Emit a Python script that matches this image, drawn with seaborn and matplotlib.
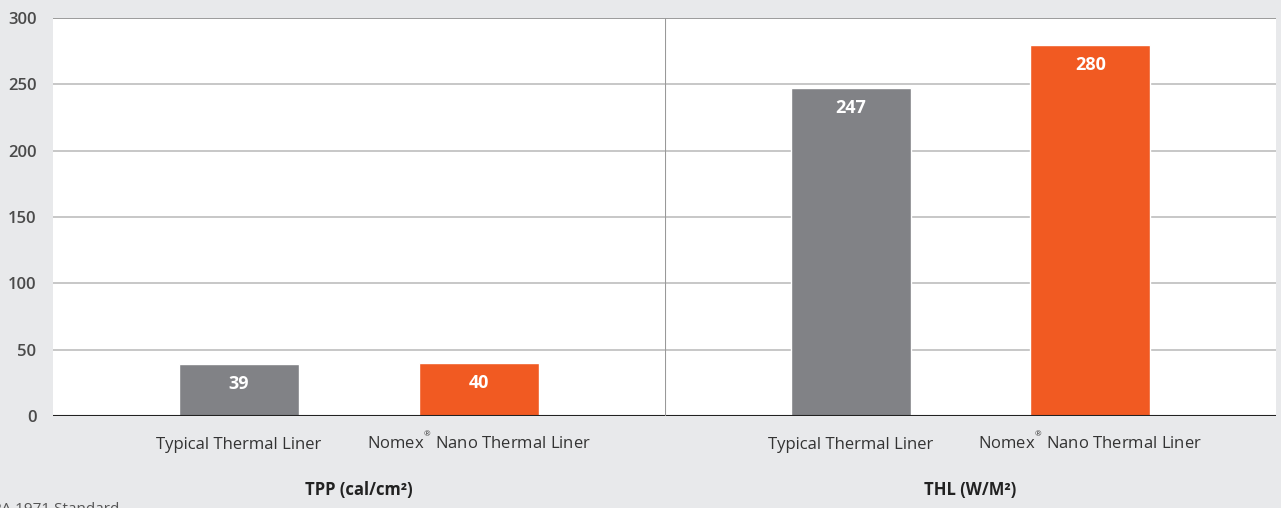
import matplotlib
matplotlib.use("Agg")
import matplotlib.pyplot as plt
import seaborn as sns
import pandas as pd

# data
liners = ["Typical Thermal Liner", "Nomex$^{^{\\circledR}}$ Nano Thermal Liner"]
tpp_values = [39, 40]
thl_values = [247, 280]
group_titles = ["TPP (cal/cm²)", "THL (W/M²)"]
yticks = [0, 50, 100, 150, 200, 250, 300]
bar_colors = ["#818286", "#F15A22"]

sns.set_style("white")
plt.rcParams["font.family"] = ["Open Sans", "DejaVu Sans"]
plt.rcParams["mathtext.fontset"] = "custom"
plt.rcParams["mathtext.rm"] = "Open Sans"

bg = "#E8E9EB"
fig = plt.figure(figsize=(12.81, 5.08), dpi=100, facecolor=bg)
left, right, bottom, top = 53 / 1281, 1276 / 1281, 92 / 508, 490 / 508
mid = 665 / 1281
ax1 = fig.add_axes([left, bottom, mid - left, top - bottom])
ax2 = fig.add_axes([mid, bottom, right - mid, top - bottom], sharey=ax1)

for i, (ax, vals, title) in enumerate(zip([ax1, ax2], [tpp_values, thl_values], group_titles)):
    df = pd.DataFrame({"liner": liners, "value": vals})
    sns.barplot(data=df, x="liner", y="value", hue="liner", palette=bar_colors,
                width=0.5, ax=ax, legend=False, saturation=1)
    ax.set_xlim(-0.775, 1.775)
    ax.set_ylim(0, 300)
    ax.set_yticks(yticks)
    ax.set_facecolor("white")
    for y in yticks[1:-1]:
        ax.axhline(y, color="#BDBDBD", lw=1.2, zorder=0)
    for s in ["left", "right", "bottom", "top"]:
        ax.spines[s].set_visible(False)
    ax.axhline(300, color="#8a8a8a", lw=1.2, zorder=0)
    ax.axhline(0, color="#222222", lw=1.5, zorder=3)
    ax.set_xlabel("")
    ax.set_ylabel("")
    ax.tick_params(axis="x", length=0, labelsize=12, labelcolor="#333333", pad=24)
    for lbl in ax.get_xticklabels():
        lbl.set_verticalalignment("baseline")
    ax.tick_params(axis="y", length=0, labelsize=12, labelcolor="#4a4a4a", pad=12)
    for lbl in ax.get_yticklabels():
        lbl.set_fontweight("semibold")
    for container in ax.containers:
        ax.bar_label(container, labels=[f"{v:.0f}" for v in container.datavalues],
                     label_type="edge", padding=-21, color="white",
                     fontsize=13, fontweight="bold")
    ax.text(0.5, -0.185, title, transform=ax.transAxes, ha="center", va="center",
            fontsize=12, fontweight="bold", color="#222222")
    if i == 1:
        ax.tick_params(axis="y", labelleft=False)
        ax.axvline(-0.775, color="#999999", lw=1.5, zorder=4)

fig.text(-0.021, -0.002, "NFPA 1971 Standard", fontsize=11, color="#555555", va="center")

fig.savefig("out.png", dpi=100, facecolor=bg)
